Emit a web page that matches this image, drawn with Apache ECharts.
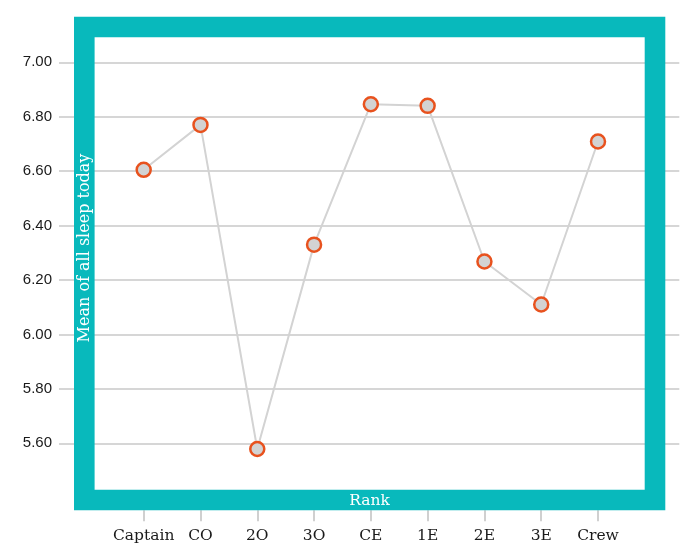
<!DOCTYPE html>
<html>
<head>
<meta charset="utf-8">
<script src="https://cdn.jsdelivr.net/npm/echarts@6/dist/echarts.min.js"></script>
<style>
html,body{margin:0;padding:0;background:#fff;}
#chart{width:683px;height:550px;}
</style>
</head>
<body>
<div id="chart"></div>
<script>
const categories = ['Captain', 'CO', '2O', '3O', 'CE', '1E', '2E', '3E', 'Crew'];
const meanSleep = [6.605, 6.77, 5.579, 6.33, 6.846, 6.84, 6.268, 6.11, 6.709];
const yMin = 5.6, yMax = 7.0, yStep = 0.2;
const xTitle = 'Rank';
const yTitle = 'Mean of all sleep today';

const teal = '#08b9bc';
const serif = '"DejaVu Serif", serif';
const chart = echarts.init(document.getElementById('chart'));
const TOP = 62.3, BOTTOM = 106.7;
chart.setOption({
  animation: false,
  grid: [
    {left: 115.3, right: 56.6, top: TOP, bottom: BOTTOM},
    {left: 59, right: 3.7, top: TOP, bottom: BOTTOM}
  ],
  xAxis: [
    {
      type: 'category', gridIndex: 0, data: categories, boundaryGap: true,
      offset: 67,
      axisLine: {show: false},
      axisTick: {show: true, alignWithLabel: true, interval: 0, length: 11, lineStyle: {color: '#d0d0d0', width: 2}},
      axisLabel: {interval: 0, margin: 18, color: '#1a1a1a', fontSize: 15.5, fontFamily: serif}
    },
    {type: 'value', gridIndex: 1, show: false, min: 0, max: 1}
  ],
  yAxis: [
    {type: 'value', gridIndex: 0, min: yMin, max: yMax, interval: yStep, show: false},
    {
      type: 'value', gridIndex: 1, min: yMin, max: yMax, interval: yStep,
      axisLine: {show: false}, axisTick: {show: false},
      splitLine: {show: true, lineStyle: {color: '#d6d6d6', width: 2}},
      axisLabel: {margin: 7, color: '#1a1a1a', fontSize: 15, fontFamily: 'Liberation Sans, Arial, sans-serif',
        formatter: v => v.toFixed(2)}
    }
  ],
  graphic: [
    {type: 'rect', z: 50, silent: true,
     shape: {x: 84.3, y: 27, width: 570.7, height: 473},
     style: {fill: 'none', stroke: teal, lineWidth: 20.6}},
    {type: 'text', z: 60, x: 369.5, y: 500.5, silent: true,
     style: {text: xTitle, fill: '#fff', font: '15.5px "DejaVu Serif", serif', textAlign: 'center', textVerticalAlign: 'middle'}},
    {type: 'text', z: 60, x: 85, y: 248, rotation: Math.PI / 2, silent: true,
     style: {text: yTitle, fill: '#fff', font: '16px "DejaVu Serif", serif', textAlign: 'center', textVerticalAlign: 'middle'}}
  ],
  series: [{
    type: 'line', xAxisIndex: 0, yAxisIndex: 0, data: meanSleep, clip: false,
    symbol: 'circle', symbolSize: 14,
    lineStyle: {color: '#d3d3d3', width: 2},
    itemStyle: {color: '#d3d3d3', borderColor: '#e8521e', borderWidth: 2.5}
  }]
});
</script>
</body>
</html>
